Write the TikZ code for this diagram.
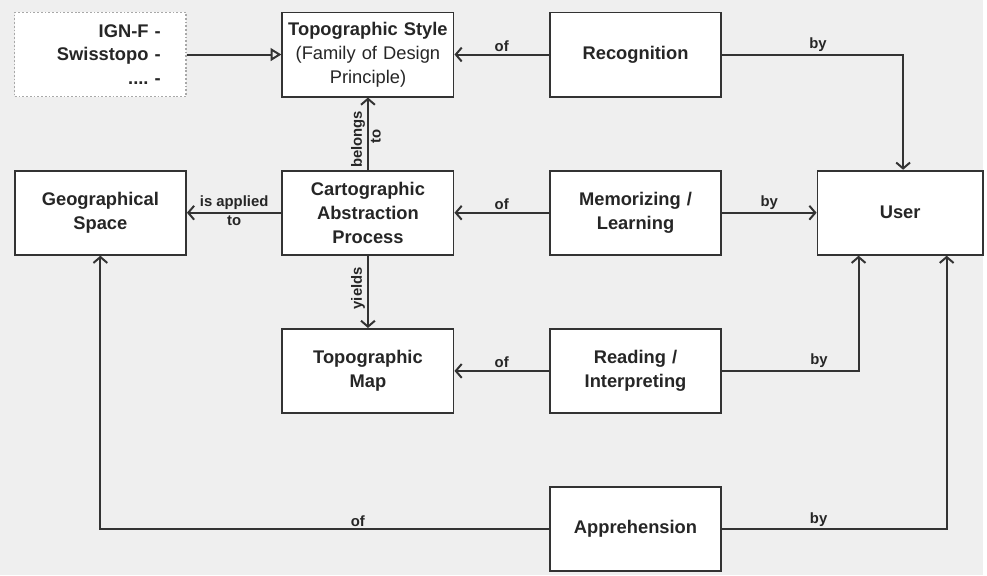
\documentclass[tikz,border=0pt]{standalone}
\usepackage{fontspec}
\setmainfont{Liberation Sans}
\usetikzlibrary{matrix,arrows.meta,backgrounds}

\definecolor{linegray}{HTML}{333333}
\definecolor{bggray}{HTML}{EFEFEF}
\definecolor{dotgray}{HTML}{A8A8A8}

\begin{document}
\begin{tikzpicture}[
	>={Straight Barb[length=6pt,width=14pt]},
	box/.style={draw=linegray, line width=1.8pt, fill=white, anchor=center,
		minimum width=173pt, minimum height=85pt, text width=167pt, align=center, inner sep=2pt,
		text=black!85, font=\bfseries\fontsize{18.5}{24}\selectfont},
	familybox/.style={draw=dotgray, dotted, line width=1.2pt, text width=122pt, align=right},
	conn/.style={draw=linegray, line width=2pt},
	lbl/.style={font=\bfseries\fontsize{15}{17}\selectfont, text=black!85, inner sep=2pt}]
	\matrix[matrix of nodes, name=m, row sep=73pt, column sep=95.5pt, nodes={box}] {
	|[familybox]| {IGN-F -\\Swisstopo -\\....\ -} &
	{Topographic Style\\{\mdseries (Family of Design\\Principle)}} &
	Recognition & \\
	{Geographical\\Space} &
	{Cartographic\\Abstraction\\Process} &
	{Memorizing /\\Learning} &
	|[minimum width=167pt, text width=158pt]| User \\
	& {Topographic\\Map} & {Reading /\\Interpreting} & \\
	& & Apprehension & \\ };
	% straight connectors
	\draw[conn, -{Triangle[open,length=11pt,width=13pt]}] (m-1-1) -- (m-1-2);
	\draw[conn, ->] (m-1-3) -- node[lbl, above] {of} (m-1-2);
	\draw[conn, ->] (m-2-3) -- node[lbl, above] {of} (m-2-2);
	\draw[conn, ->] (m-2-3) -- node[lbl, above] {by} (m-2-4);
	\draw[conn, ->] (m-3-3) -- node[lbl, above] {of} (m-3-2);
	\draw[conn, ->] (m-2-2) -- node[lbl, above] {is applied} node[lbl, below] {to} (m-2-1);
	\draw[conn, ->] (m-2-2) -- node[lbl, rotate=90, anchor=south, pos=0.42] {belongs}
		node[lbl, rotate=90, anchor=north, pos=0.46] {to} (m-1-2);
	\draw[conn, ->] (m-2-2) -- node[lbl, rotate=90, anchor=south, pos=0.45] {yields} (m-3-2);
	% elbow connectors
	\draw[conn, ->] (m-1-3) -| node[lbl, above, pos=0.265] {by} ([xshift=3pt]m-2-4.north);
	\draw[conn, ->] (m-3-3) -| node[lbl, above, pos=0.355] {by} ([xshift=-42pt]m-2-4.south);
	\draw[conn, ->] (m-4-3) -| node[lbl, above, pos=0.213] {of} (m-2-1);
	\draw[conn, ->] (m-4-3) -| node[lbl, above, pos=0.215] {by} ([xshift=47pt]m-2-4.south);
	% page
	\coordinate (tl) at ([shift={(-14pt,12pt)}]m-2-1.west |- m-1-1.north);
	\coordinate (br) at ([shift={(-1pt,-3pt)}]m-2-4.east |- m-4-3.south);
	\useasboundingbox (tl) rectangle (br);
	\begin{scope}[on background layer]
	\fill[bggray] (tl) rectangle (br);
	\end{scope}
\end{tikzpicture}
\end{document}
